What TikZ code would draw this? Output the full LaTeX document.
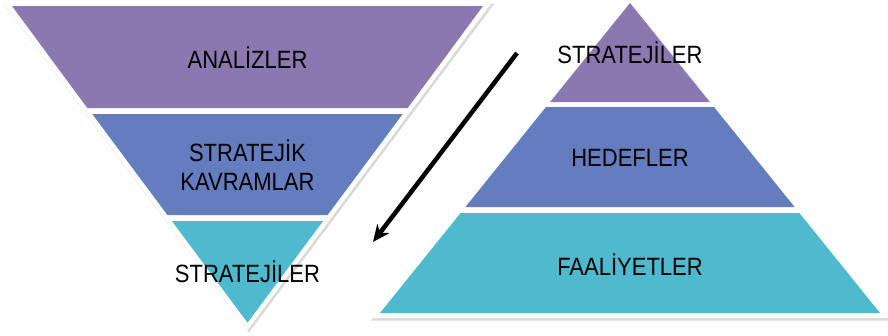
\documentclass[tikz,border=0pt]{standalone}
\usepackage{fontspec}
\newfontfamily\lblfont{Liberation Sans}[FakeStretch=0.88]
\usetikzlibrary{arrows.meta,shadows}
\definecolor{lilac}{RGB}{139,120,177}
\definecolor{slateblue}{RGB}{99,125,190}
\definecolor{aqua}{RGB}{79,186,206}
\tikzset{
  outer/.style={fill=white, drop shadow={shadow xshift=1.5pt, shadow yshift=-2.5pt, opacity=0.3}},
  lbl/.style={font=\lblfont\fontsize{25}{29}\selectfont, align=center, text=black},
  arrowline/.style={-{Stealth[length=17pt,width=15pt]}, line width=4.5pt}
}

\begin{document}
\begin{tikzpicture}[x=1pt, y=-1pt]
\useasboundingbox (0,0) rectangle (888,335);
\path[outer] (2,1) -- (493,1) -- (247.5,330) -- cycle;
\fill[lilac] (12,6) -- (483,6) -- (407.7,108) -- (87.3,108) -- cycle;
\fill[slateblue] (92.3,114) -- (402.7,114) -- (327.6,215) -- (167.4,215) -- cycle;
\fill[aqua] (171.9,221) -- (323.1,221) -- (247.5,322.7) -- cycle;
\path[outer] (630,-5) -- (890.4,318) -- (369.6,318) -- cycle;
\fill[lilac] (630,3) -- (709.9,102) -- (550.1,102) -- cycle;
\fill[slateblue] (546,107) -- (714,107) -- (794.6,207) -- (465.4,207) -- cycle;
\fill[aqua] (460.6,213) -- (799.4,213) -- (880,313) -- (380,313) -- cycle;
\node[lbl] at (247.5,58) (ana) {ANALİZLER};
\node[lbl] at (247.5,165) (kav) {STRATEJİK\\KAVRAMLAR};
\node[lbl] at (247.5,272) (strl) {STRATEJİLER};
\node[lbl] at (630,53) (strr) {STRATEJİLER};
\node[lbl] at (630,158) (hed) {HEDEFLER};
\node[lbl] at (630,265) (faa) {FAALİYETLER};
\coordinate (arrs) at (517,53);
\coordinate (arre) at (373,242);
\draw[arrowline] (arrs) -- (arre);
\end{tikzpicture}
\end{document}
